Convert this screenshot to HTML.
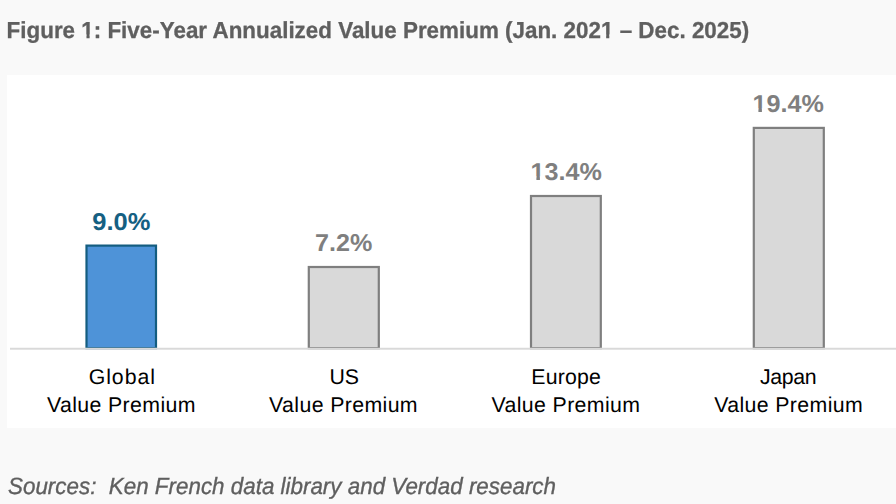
<!DOCTYPE html>
<html><head><meta charset="utf-8">
<style>
html,body{margin:0;padding:0;background:#f9f9f9;width:896px;height:504px;overflow:hidden}
svg{display:block}
.t{font-family:"Liberation Sans",Arial,Helvetica,sans-serif}
</style></head>
<body>
<svg width="896" height="504" viewBox="0 0 896 504" text-rendering="geometricPrecision">
<defs><filter id="g" x="-5%" y="-20%" width="110%" height="140%"><feOffset dx="0" dy="0"/></filter></defs>
<rect x="0" y="0" width="896" height="504" fill="#f9f9f9"/>
<text id="title" filter="url(#g)" class="t" x="6.60" y="38.00" font-size="23.10" font-weight="bold" fill="#5f5f5f" stroke="#5f5f5f" stroke-width="0.3" textLength="742.60" lengthAdjust="spacingAndGlyphs">Figure 1: Five-Year Annualized Value Premium (Jan. 2021 – Dec. 2025)</text>
<rect x="7" y="75" width="889" height="353" fill="#ffffff"/>
<rect x="86.5" y="245.6" width="69.5" height="102.6" fill="#4e93d8" stroke="#145d80" stroke-width="2.2"/>
<rect x="308.8" y="267.0" width="70.0" height="81.2" fill="#d9d9d9" stroke="#7f7f7f" stroke-width="2.2"/>
<rect x="531.0" y="196.0" width="69.8" height="152.2" fill="#d9d9d9" stroke="#7f7f7f" stroke-width="2.2"/>
<rect x="753.8" y="127.9" width="70.0" height="220.3" fill="#d9d9d9" stroke="#7f7f7f" stroke-width="2.2"/>
<rect x="10" y="347.75" width="886" height="1.95" fill="#d9d9d9"/>
<g class="t" font-size="24.30" font-weight="bold" text-anchor="middle">
<text id="dl0" x="121.30" y="230.00" fill="#156082" textLength="58.10" lengthAdjust="spacingAndGlyphs">9.0%</text>
<text id="dl1" x="343.65" y="251.00" fill="#7f7f7f" textLength="57.30" lengthAdjust="spacingAndGlyphs">7.2%</text>
<text id="dl2" x="566.25" y="180.00" fill="#7f7f7f" textLength="71.40" lengthAdjust="spacingAndGlyphs">13.4%</text>
<text id="dl3" x="788.25" y="112.00" fill="#7f7f7f" textLength="71.40" lengthAdjust="spacingAndGlyphs">19.4%</text>
</g>
<rect x="81.73" y="34.44" width="4.75" height="4.56" fill="#f9f9f9"/>
<rect x="89.62" y="34.44" width="4.51" height="4.56" fill="#f9f9f9"/>
<rect x="601.41" y="34.44" width="4.75" height="4.56" fill="#f9f9f9"/>
<rect x="609.30" y="34.44" width="4.51" height="4.56" fill="#f9f9f9"/>
<rect x="531.08" y="176.32" width="5.32" height="4.68" fill="#ffffff"/>
<rect x="539.91" y="176.32" width="4.94" height="4.68" fill="#ffffff"/>
<rect x="753.08" y="108.32" width="5.32" height="4.68" fill="#ffffff"/>
<rect x="761.91" y="108.32" width="4.94" height="4.68" fill="#ffffff"/>
<g class="t" font-size="21.30" text-anchor="middle" fill="#000">
<text id="cat0" x="121.85" y="384.00" textLength="66.45" lengthAdjust="spacing">Global</text>
<text id="cat1" x="344.20" y="384.00">US</text>
<text id="cat2" x="566.10" y="384.00" textLength="69.70" lengthAdjust="spacing">Europe</text>
<text id="cat3" x="788.35" y="384.00" textLength="56.60" lengthAdjust="spacing">Japan</text>
<text id="vp0" x="121.20" y="412.00" textLength="148.50" lengthAdjust="spacing">Value Premium</text>
<text id="vp1" x="343.35" y="412.00" textLength="148.50" lengthAdjust="spacing">Value Premium</text>
<text id="vp2" x="565.75" y="412.00" textLength="148.50" lengthAdjust="spacing">Value Premium</text>
<text id="vp3" x="788.45" y="412.00" textLength="148.50" lengthAdjust="spacing">Value Premium</text>
</g>
<text id="src" filter="url(#g)" class="t" x="8.00" y="494.00" font-size="23.40" font-style="italic" fill="#5f5f5f" stroke="#5f5f5f" stroke-width="0.35" textLength="548.00" lengthAdjust="spacingAndGlyphs">Sources:&#160; Ken French data library and Verdad research</text>
</svg>
</body></html>
